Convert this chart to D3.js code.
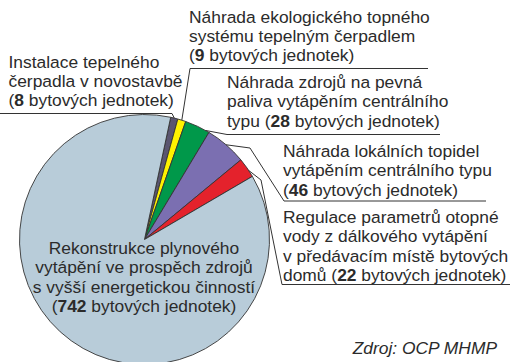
<!DOCTYPE html>
<html>
<head>
<meta charset="utf-8">
<script src="https://cdn.jsdelivr.net/npm/d3@7"></script>
<style>
  html, body { margin: 0; padding: 0; background: #ffffff; }
  svg { display: block; }
  text { font-family: "Liberation Sans", Arial, sans-serif; fill: #2b2b2b; }
</style>
</head>
<body>
<svg id="chart" width="510" height="362"></svg>
<script>
// Počet bytových jednotek podle typu opatření
const categories = [
  "Instalace tepelného čerpadla v novostavbě",
  "Náhrada ekologického topného systému tepelným čerpadlem",
  "Náhrada zdrojů na pevná paliva vytápěním centrálního typu",
  "Náhrada lokálních topidel vytápěním centrálního typu",
  "Regulace parametrů otopné vody z dálkového vytápění v předávacím místě bytových domů",
  "Rekonstrukce plynového vytápění ve prospěch zdrojů s vyšší energetickou činností"
];
const values = [8, 9, 28, 46, 22, 742];
const colors = ["#5a5570", "#fff200", "#00984a", "#7b6fb1", "#e4222c", "#b8ccd9"];

// Label text, split into lines; the last entry is the text before the bold count
const labelLines = [
  ["Instalace tepelného", "čerpadla v novostavbě", "("],
  ["Náhrada ekologického topného", "systému tepelným čerpadlem", "("],
  ["Náhrada zdrojů na pevná", "paliva vytápěním centrálního", "typu ("],
  ["Náhrada lokálních topidel", "vytápěním centrálního typu", "("],
  ["Regulace parametrů otopné", "vody z dálkového vytápění", "v předávacím místě bytových", "domů ("],
  ["Rekonstrukce plynového", "vytápění ve prospěch zdrojů", "s vyšší energetickou činností", "("]
];
const unitSuffix = " bytových jednotek)";
const sourceNote = "Zdroj: OCP MHMP";

const svg = d3.select("#chart");
const fontSize = 17.4;
const lineHeight = 19.4;

const cx = 144.5, cy = 239.5, radius = 125;
const rotation = 12.1 * Math.PI / 180;

const pie = d3.pie().sort(null).value(d => d)
  .startAngle(rotation).endAngle(rotation + 2 * Math.PI);
const arcs = pie(values);
const arc = d3.arc().innerRadius(0).outerRadius(radius);

const g = svg.append("g").attr("transform", `translate(${cx},${cy})`);
g.selectAll("path.slice")
  .data(arcs)
  .join("path")
  .attr("class", "slice")
  .attr("d", arc)
  .attr("fill", (d, i) => colors[i])
  .attr("stroke", "#333333")
  .attr("stroke-width", 0.9)
  .attr("stroke-linejoin", "round");

// point on the rim of a slice, at a fraction of its angular span
function rimPoint(a, frac) {
  const ang = a.startAngle + frac * (a.endAngle - a.startAngle);
  return [cx + radius * Math.sin(ang), cy - radius * Math.cos(ang)];
}

// label placement for the five outer labels and the inner one
const placement = [
  { x: 8.5, y: 67.5, anchor: "start", frac: 0.5, elbows: [], join: [172, 113.5], under: [0, 172] },
  { x: 189, y: 22.5, anchor: "start", frac: 0.5, elbows: [], join: [190, 68.5], under: [190, 428] },
  { x: 227, y: 88, anchor: "start", frac: 0.85, elbows: [], join: [227, 134.5], under: [227, 440] },
  { x: 283, y: 157, anchor: "start", frac: 0.5, elbows: [[250, 148]], join: [284, 201], under: [284, 486] },
  { x: 283, y: 223, anchor: "start", frac: 0.65, elbows: [[261, 180]], join: [282, 284.5], under: [282, 510] },
  { x: 144, y: 254, anchor: "middle", frac: null }
];

const lineGen = d3.line();
const leaders = svg.append("g")
  .attr("fill", "none")
  .attr("stroke", "#333333")
  .attr("stroke-width", 1);

placement.forEach((p, i) => {
  if (p.frac === null) return;
  const pts = [rimPoint(arcs[i], p.frac), ...p.elbows, p.join];
  leaders.append("path").attr("d", lineGen(pts));
  leaders.append("path").attr("d", lineGen([[p.under[0], p.join[1]], [p.under[1], p.join[1]]]));
});

const labels = svg.append("g").attr("font-size", fontSize);
placement.forEach((p, i) => {
  const lines = labelLines[i];
  const t = labels.append("text")
    .attr("x", p.x)
    .attr("y", p.y)
    .attr("text-anchor", p.anchor);
  lines.forEach((ln, k) => {
    const last = k === lines.length - 1;
    const ts = t.append("tspan")
      .attr("x", p.x)
      .attr("dy", k === 0 ? 0 : lineHeight)
      .text(ln);
    if (last) {
      t.append("tspan").attr("font-weight", "bold").text(values[i]);
      t.append("tspan").text(unitSuffix);
    }
  });
});

svg.append("text")
  .attr("x", 497)
  .attr("y", 354)
  .attr("text-anchor", "end")
  .attr("font-size", fontSize)
  .attr("font-style", "italic")
  .text(sourceNote);
</script>
</body>
</html>
